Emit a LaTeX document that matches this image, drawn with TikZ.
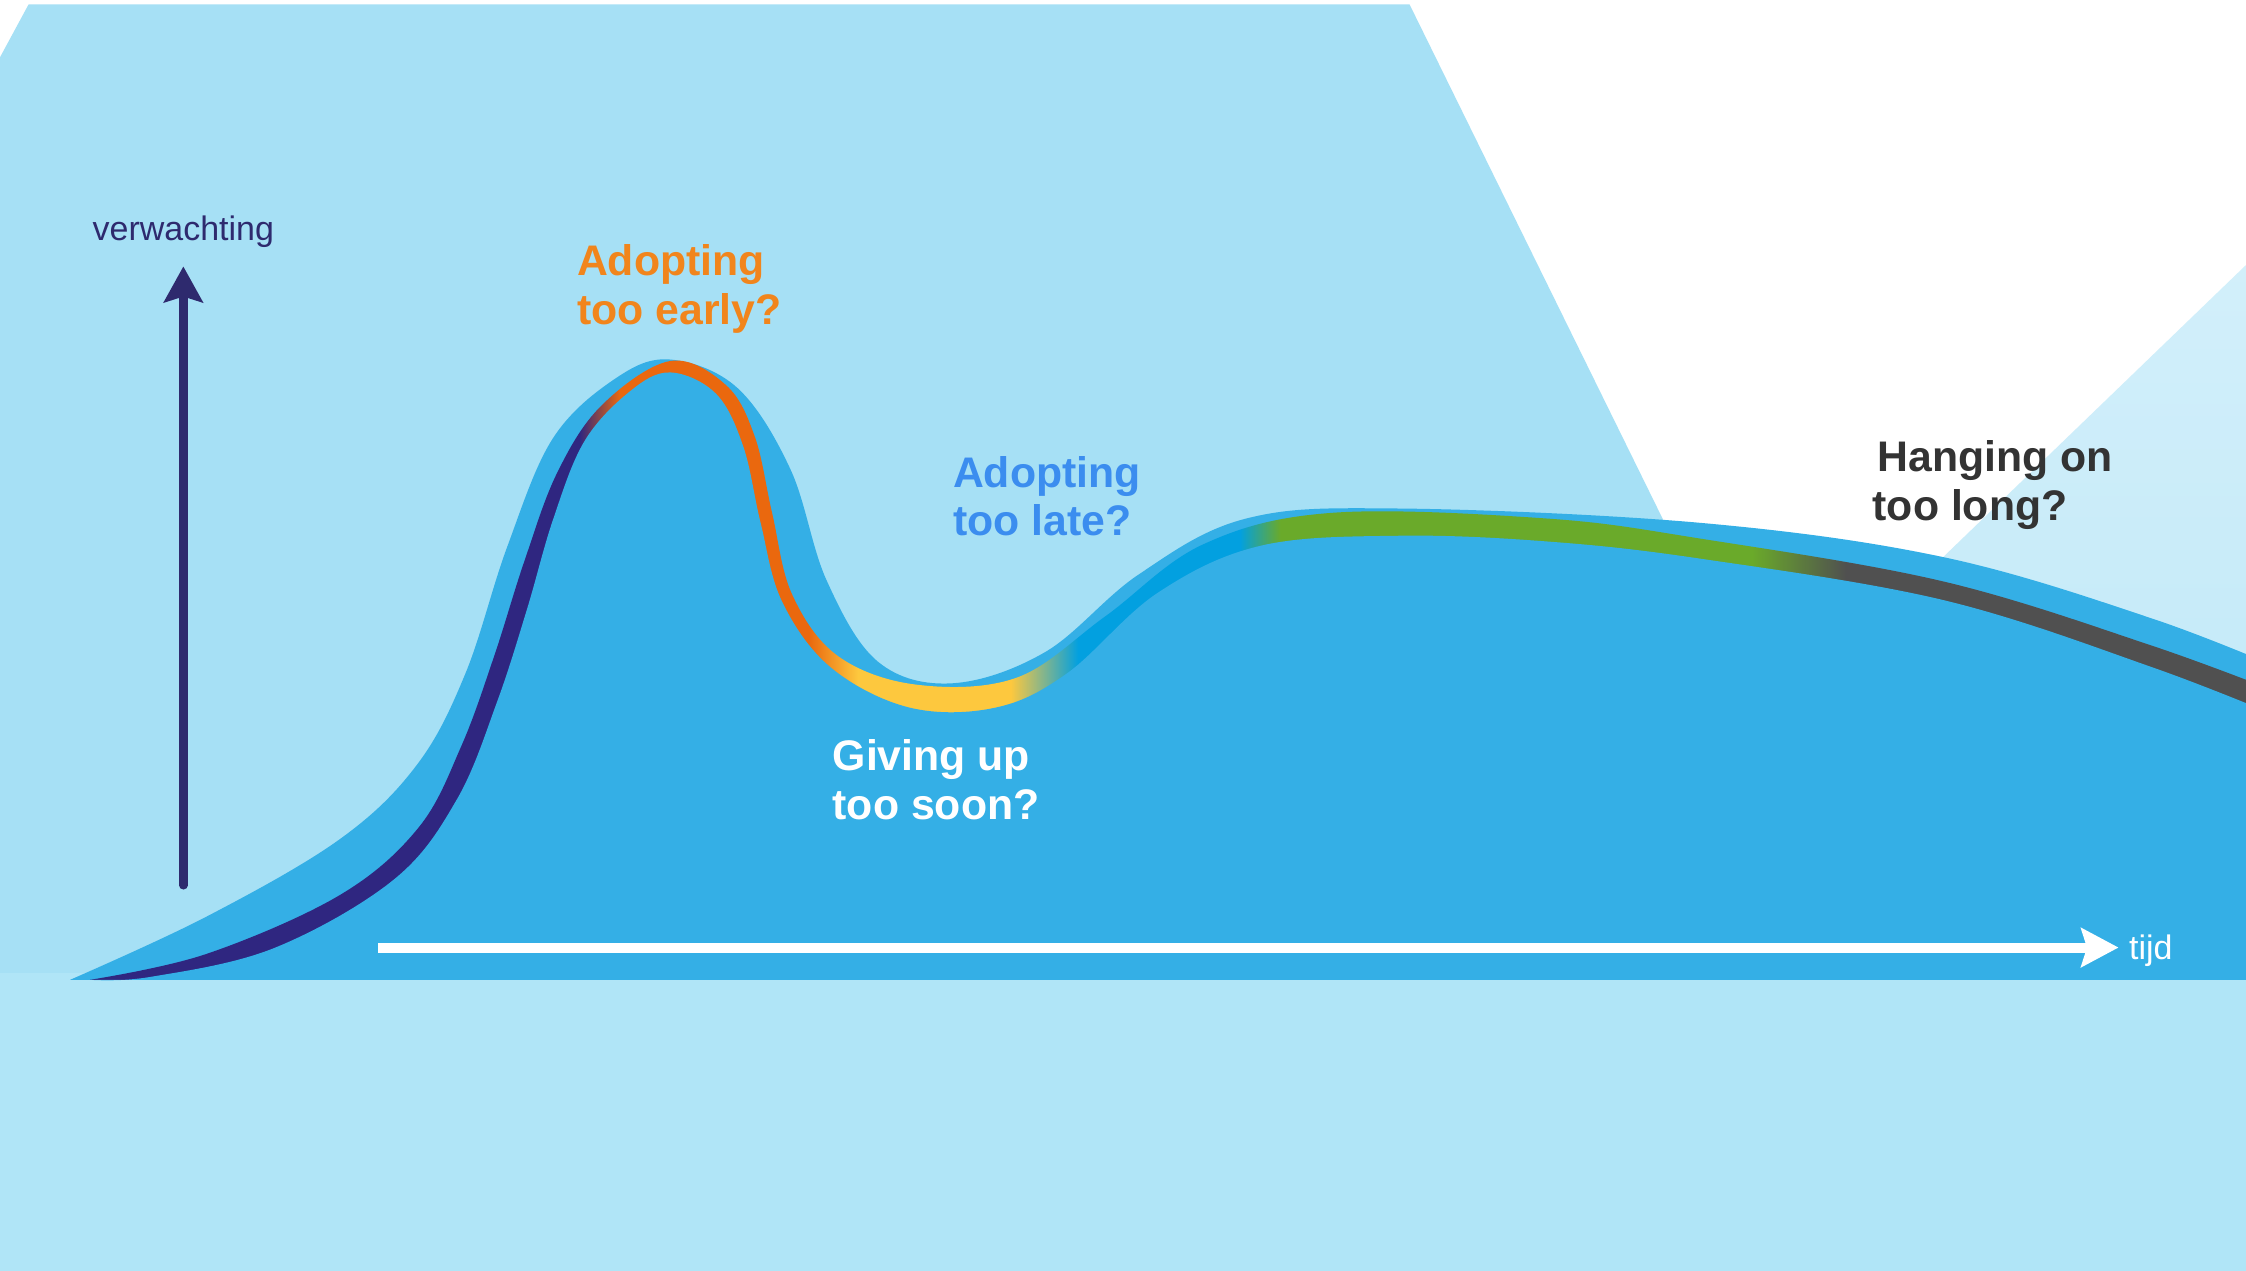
\documentclass[tikz,border=0pt]{standalone}
\usepackage{fontspec}
\setmainfont{Liberation Sans}
\usepackage{tikz}
\usetikzlibrary{arrows.meta}
\pgfdeclarelayer{background}
\pgfsetlayers{background,main}

\definecolor{skyblue}{RGB}{166,224,245}
\definecolor{paleblue}{RGB}{176,229,247}
\definecolor{hazetop}{RGB}{210,239,250}
\definecolor{hazebottom}{RGB}{188,231,248}
\definecolor{hillblue}{RGB}{52,175,230}
\definecolor{hypenavy}{RGB}{47,38,128}
\definecolor{axisnavy}{RGB}{46,42,110}
\definecolor{hypeorange}{RGB}{234,104,14}
\definecolor{troughyellow}{RGB}{253,200,62}
\definecolor{riseblue}{RGB}{2,160,224}
\definecolor{plateaugreen}{RGB}{106,170,42}
\definecolor{declinegrey}{RGB}{80,80,80}
\definecolor{earlytext}{RGB}{241,133,28}
\definecolor{latetext}{RGB}{59,141,239}
\definecolor{longtext}{RGB}{51,51,51}

\pgfdeclarehorizontalshading{hypeband}{100bp}{color(0bp)=(hypenavy); color(37.9bp)=(hypenavy); color(38.8bp)=(hypeorange); color(43.0bp)=(hypeorange); color(44.1bp)=(troughyellow); color(47.5bp)=(troughyellow); color(49.0bp)=(riseblue); color(52.6bp)=(riseblue); color(53.5bp)=(plateaugreen); color(64.0bp)=(plateaugreen); color(66.1bp)=(declinegrey); color(100bp)=(declinegrey)}

\begin{document}
\begin{tikzpicture}[x=0.02cm,y=-0.02cm,
    question/.style={anchor=north west,inner sep=0pt,align=left,font=\fontsize{17pt}{19.4pt}\selectfont\bfseries},
    axislabel/.style={inner sep=0pt,font=\fontsize{13.5pt}{16pt}\selectfont},
    curve/.style={smooth,tension=0.6}]
        \useasboundingbox (0,0) rectangle (1568,887);

        \begin{pgfonlayer}{background}
            \fill[white] (0,0) rectangle (1568,887);
            \fill[skyblue] (20,3) -- (984,3) -- (1327,700) -- (0,700) -- (0,40) -- cycle;
            \shade[top color=hazetop,bottom color=hazebottom] (1568,185) -- (1034,700) -- (1568,700) -- cycle;
            \fill[paleblue] (0,679) rectangle (1568,887);
        \end{pgfonlayer}

        \fill[hillblue] plot[curve] coordinates {(49,684) (144,640) (237,586) (291,534) (325,470) (354,382) (386,306) (430,264) (468,251) (515,271) (552,328) (577,405) (613,462) (665,477) (730,455) (795,401) (870,362) (977,355) (1187,365) (1357,389) (1503,432) (1600,470)} -- (1600,684) -- cycle;

        \begin{scope}
            \clip plot[curve] coordinates {(63,684) (144,666) (237,625) (292,578) (322,521) (345,458) (366,392) (389,330) (420,283) (468,252) (507,269) (527,305) (539,358) (553,415) (585,458) (640,478) (710,473) (772,430) (840,380) (930,358) (1080,362) (1187,376) (1357,406) (1503,451) (1600,487)} -- (1600,684) -- cycle;
            \shade[shading=hypeband] (0,200) rectangle (1568,700);
        \end{scope}

        \fill[hillblue] plot[curve] coordinates {(63,684) (105,682) (191,662) (275,614) (319,558) (347,490) (368,425) (386,363) (408,308) (440,273) (468,260) (500,275) (519,312) (531,365) (546,420) (580,466) (635,494) (695,494) (745,470) (808,414) (880,381) (977,374) (1080,378) (1187,390) (1357,419) (1503,466) (1600,504)} -- (1600,684) -- cycle;

        \coordinate (yfoot) at (128,618);
        \coordinate (ytip) at (128,186);
        \draw[axisnavy,line width=0.12cm,line cap=round,-{Stealth[length=0.5cm,width=0.54cm,inset=0.08cm]}] (yfoot) -- (ytip);
        \node[axislabel,text=axisnavy,above=0.26cm] (ylabel) at (ytip) {verwachting};

        \coordinate (xfoot) at (264,661.5);
        \coordinate (xtip) at (1479,661.5);
        \draw[white,line width=0.14cm,-{Stealth[length=0.52cm,width=0.54cm,inset=0.08cm]}] (xfoot) -- (xtip);
        \node[axislabel,text=white,anchor=base west] (xlabel) at (1486,670) {tijd};

        \node[question,text=earlytext] (early) at (402.5,170.5) {Adopting\\too early?};
        \node[question,text=latetext] (late) at (665,318) {Adopting\\too late?};
        \node[question,text=white] (soon) at (581,516) {Giving up\\too soon?};
        \node[question,text=longtext] (long) at (1307,307) {\hspace*{2pt}Hanging on\\too long?};
    \end{tikzpicture}
\end{document}
